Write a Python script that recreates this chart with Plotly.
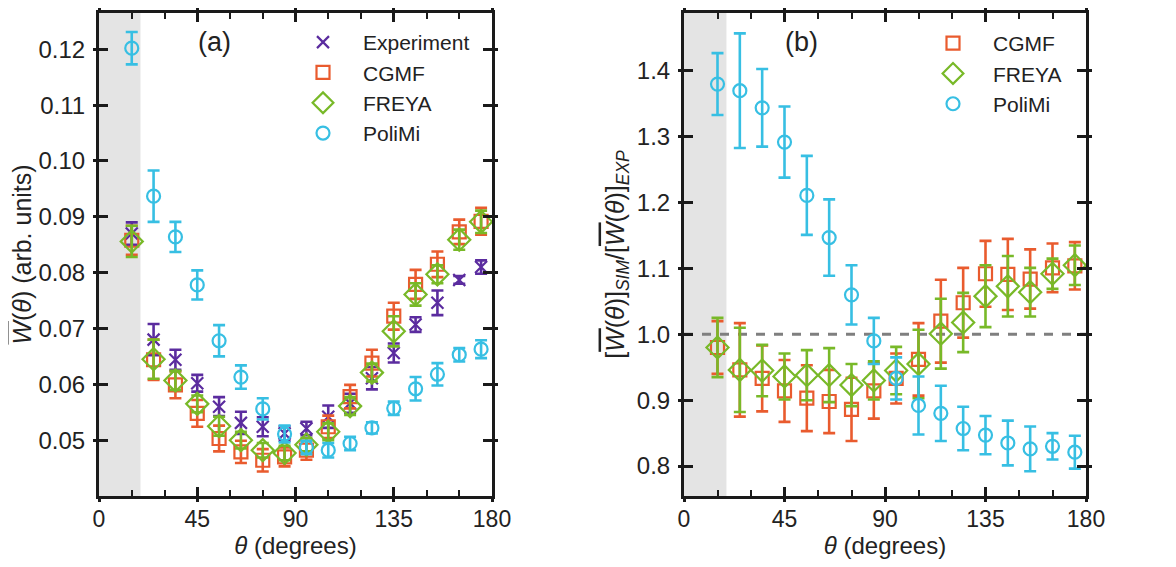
import plotly.graph_objects as go

theta = [15, 25, 35, 45, 55, 65, 75, 85, 95, 105, 115, 125, 135, 145, 155, 165, 175]

# Panel (a): W(theta)
exp_a = [0.0870, 0.0680, 0.0644, 0.0602, 0.0560, 0.0531, 0.0524, 0.0512, 0.0521, 0.0542, 0.0566, 0.0611, 0.0656, 0.0707, 0.0746, 0.0787, 0.0810]
exp_a_err = [0.0020, 0.0028, 0.0018, 0.0015, 0.0017, 0.0020, 0.0017, 0.0013, 0.0012, 0.0020, 0.0017, 0.0020, 0.0017, 0.0013, 0.0022, 0.0007, 0.0012]
cgmf_a = [0.0858, 0.0644, 0.0599, 0.0548, 0.0503, 0.0479, 0.0464, 0.0470, 0.0482, 0.0524, 0.0578, 0.0638, 0.0722, 0.0779, 0.0815, 0.0873, 0.0892]
cgmf_a_err = [0.0026, 0.0036, 0.0024, 0.0024, 0.0023, 0.0020, 0.0020, 0.0017, 0.0017, 0.0020, 0.0021, 0.0024, 0.0024, 0.0026, 0.0023, 0.0022, 0.0024]
freya_a = [0.0856, 0.0645, 0.0607, 0.0565, 0.0525, 0.0500, 0.0482, 0.0477, 0.0492, 0.0515, 0.0561, 0.0621, 0.0695, 0.0761, 0.0797, 0.0859, 0.0891]
freya_a_err = [0.0028, 0.0035, 0.0017, 0.0015, 0.0017, 0.0015, 0.0013, 0.0013, 0.0012, 0.0015, 0.0016, 0.0016, 0.0027, 0.0020, 0.0016, 0.0018, 0.0020]
polimi_a = [0.1202, 0.0937, 0.0864, 0.0778, 0.0678, 0.0613, 0.0556, 0.0511, 0.0487, 0.0482, 0.0494, 0.0522, 0.0557, 0.0592, 0.0618, 0.0653, 0.0663]
polimi_a_err = [0.0029, 0.0046, 0.0027, 0.0026, 0.0028, 0.0021, 0.0019, 0.0015, 0.0012, 0.0013, 0.0012, 0.0010, 0.0012, 0.0021, 0.0020, 0.0012, 0.0016]

# Panel (b): ratio SIM/EXP
cgmf_b = [0.980, 0.946, 0.933, 0.914, 0.903, 0.898, 0.886, 0.914, 0.933, 0.962, 1.020, 1.048, 1.092, 1.091, 1.084, 1.101, 1.104]
cgmf_b_err = [0.040, 0.071, 0.050, 0.047, 0.050, 0.048, 0.048, 0.042, 0.038, 0.055, 0.063, 0.053, 0.050, 0.054, 0.045, 0.037, 0.036]
freya_b = [0.980, 0.946, 0.945, 0.936, 0.938, 0.938, 0.923, 0.930, 0.945, 0.955, 1.001, 1.018, 1.058, 1.073, 1.064, 1.092, 1.105]
freya_b_err = [0.045, 0.064, 0.039, 0.035, 0.038, 0.041, 0.032, 0.029, 0.036, 0.052, 0.053, 0.045, 0.047, 0.046, 0.037, 0.023, 0.030]
polimi_b = [1.380, 1.370, 1.344, 1.292, 1.211, 1.147, 1.060, 0.990, 0.933, 0.892, 0.880, 0.857, 0.847, 0.835, 0.826, 0.830, 0.821]
polimi_b_err = [0.047, 0.087, 0.059, 0.054, 0.060, 0.058, 0.045, 0.035, 0.032, 0.044, 0.042, 0.033, 0.029, 0.034, 0.034, 0.020, 0.025]

x_ticks = [0, 45, 90, 135, 180]
y_ticks_a = [0.05, 0.06, 0.07, 0.08, 0.09, 0.10, 0.11, 0.12]
y_ticks_b = [0.8, 0.9, 1.0, 1.1, 1.2, 1.3, 1.4]

shade_end = 19
ref_level = 1.0

C_EXP = "#5B2C9F"
C_CGMF = "#E95B2E"
C_FREYA = "#78B928"
C_POLI = "#37BFE3"
FONT = "Liberation Sans, Arial, sans-serif"
TXT = "#222222"
AX = "#1a1a1a"

fig = go.Figure()

def add(x, y, err, name, color, symbol, size, xa, ya, legend):
    fig.add_trace(go.Scatter(
        x=x, y=y, mode="markers", name=name,
        xaxis=xa, yaxis=ya, legend=legend,
        marker=dict(symbol=symbol, size=size, color=color,
                    line=dict(color=color, width=2.2)),
        error_y=dict(type="data", array=err, visible=True, color=color,
                     thickness=2.6, width=6),
    ))

add(theta, exp_a, exp_a_err, "Experiment", C_EXP, "x-thin-open", 12, "x", "y", "legend")
add(theta, cgmf_a, cgmf_a_err, "CGMF", C_CGMF, "square-open", 13, "x", "y", "legend")
add(theta, freya_a, freya_a_err, "FREYA", C_FREYA, "diamond-open", 17, "x", "y", "legend")
add(theta, polimi_a, polimi_a_err, "PoliMi", C_POLI, "circle-open", 13, "x", "y", "legend")

add(theta, cgmf_b, cgmf_b_err, "CGMF", C_CGMF, "square-open", 13, "x2", "y2", "legend2")
add(theta, freya_b, freya_b_err, "FREYA", C_FREYA, "diamond-open", 17, "x2", "y2", "legend2")
add(theta, polimi_b, polimi_b_err, "PoliMi", C_POLI, "circle-open", 13, "x2", "y2", "legend2")

# page has an 8px body margin: figure coords = page coords - 8
OFF = 8
W = 1176 - OFF; H = 567 - OFF
L, R = 99 - OFF, W - (1086 - OFF)
T, B = 13 - OFF, H - (496 - OFF)
PW = W - L - R
PH = H - T - B
dom_a = [0, (492 - 99) / PW]
dom_b = [(684 - 99) / PW, 1]

yr_a = [0.0400, 0.1265]
yr_b = [0.7545, 1.488]

def xaxis(dom, anchor):
    return dict(domain=dom, range=[0, 180], anchor=anchor,
                tickvals=x_ticks, ticks="inside", ticklen=9, tickwidth=2.6, tickcolor=AX,
                minor=dict(dtick=15, tick0=0, ticks="inside", ticklen=6, tickwidth=2, tickcolor=AX),
                showline=True, linewidth=3, linecolor=AX, mirror="ticks",
                showgrid=False, zeroline=False,
                tickfont=dict(family=FONT, size=23, color=TXT), automargin=False,
                title=dict(text="<i>θ</i> (degrees)", font=dict(family=FONT, size=24, color=TXT), standoff=6))

def xover(dom, anchor, overlaying):
    return dict(domain=dom, range=[0, 180], anchor=anchor, overlaying=overlaying,
                tickvals=x_ticks, ticks="outside", ticklen=5, tickwidth=2.6,
                tickcolor=AX, showticklabels=False, showline=False,
                mirror="ticks", showgrid=False, zeroline=False)

def yaxis(anchor, rng, tv, tfmt, title):
    return dict(domain=[0, 1], range=rng, anchor=anchor, tickvals=tv, tickformat=tfmt,
                ticks="inside", ticklen=9, tickwidth=2.6, tickcolor=AX,
                showline=True, linewidth=3, linecolor=AX, mirror="ticks",
                showgrid=False, zeroline=False, ticklabelstandoff=6,
                tickfont=dict(family=FONT, size=24, color=TXT), automargin=False,
                title=dict(text=title, font=dict(family=FONT, size=25, color=TXT), standoff=6))

def yover(anchor, rng, tv, overlaying):
    return dict(range=rng, anchor=anchor, overlaying=overlaying, tickvals=tv,
                ticks="outside", ticklen=5, tickwidth=2.6, tickcolor=AX,
                showticklabels=False, showline=False, mirror="ticks",
                showgrid=False, zeroline=False)

OW = "<span style='text-decoration:overline'><i>W</i></span>"
ytitle_a = OW + "(<i>θ</i>) (arb. units)"
ytitle_b = "[" + OW + "(<i>θ</i>)]<sub><i>SIM</i></sub>/[" + OW + "(<i>θ</i>)]<sub><i>EXP</i></sub>"

leg_common = dict(xanchor="left", yanchor="top", bgcolor="rgba(0,0,0,0)",
                  font=dict(family=FONT, size=21, color=TXT), tracegroupgap=0, itemwidth=70)

fig.update_layout(
    width=W, height=H,
    margin=dict(l=L, r=R, t=T, b=B),
    paper_bgcolor="white", plot_bgcolor="white",
    font=dict(family=FONT, color=TXT),
    xaxis=xaxis(dom_a, "y"),
    yaxis=yaxis("x", yr_a, y_ticks_a, ".2f", ytitle_a),
    xaxis2=xaxis(dom_b, "y2"),
    yaxis2=yaxis("x2", yr_b, y_ticks_b, ".1f", ytitle_b),
    xaxis3=xover(dom_a, "y3", "x"),
    yaxis3=yover("x3", yr_a, y_ticks_a, "y"),
    xaxis4=xover(dom_b, "y4", "x2"),
    yaxis4=yover("x4", yr_b, y_ticks_b, "y2"),
    legend=dict(x=(283 - 99) / PW, y=1 - (22 - 13) / PH, **leg_common),
    legend2=dict(x=(913 - 99) / PW, y=1 - (23 - 13) / PH, **leg_common),
    showlegend=True,
)

fig.add_trace(go.Scatter(x=[None], y=[None], xaxis="x3", yaxis="y3", showlegend=False, hoverinfo="skip"))
fig.add_trace(go.Scatter(x=[None], y=[None], xaxis="x4", yaxis="y4", showlegend=False, hoverinfo="skip"))

fig.add_shape(type="rect", xref="x", yref="y domain", x0=0, x1=shade_end, y0=0, y1=1,
              fillcolor="#e4e4e4", line=dict(width=0), layer="below")
fig.add_shape(type="rect", xref="x2", yref="y2 domain", x0=0, x1=shade_end, y0=0, y1=1,
              fillcolor="#e4e4e4", line=dict(width=0), layer="below")
fig.add_shape(type="line", xref="x2 domain", yref="y2", x0=0, x1=1, y0=ref_level, y1=ref_level,
              line=dict(color="#7f7f7f", width=3, dash="dash"), layer="below")

fig.add_annotation(text="(a)", xref="x domain", yref="y domain", x=0.295, y=(496 - 42) / PH,
                   xanchor="center", yanchor="middle",
                   showarrow=False, font=dict(family=FONT, size=27, color=TXT))
fig.add_annotation(text="(b)", xref="x2 domain", yref="y2 domain", x=0.293, y=(496 - 42) / PH,
                   xanchor="center", yanchor="middle",
                   showarrow=False, font=dict(family=FONT, size=27, color=TXT))

fig.write_html("out.html")
